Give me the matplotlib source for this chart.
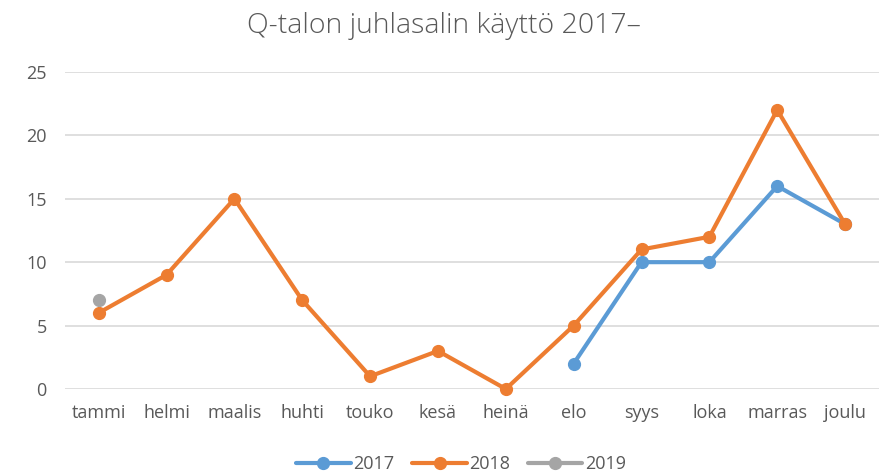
import numpy as np
import matplotlib.pyplot as plt

months = ["tammi", "helmi", "maalis", "huhti", "touko", "kesä", "heinä",
          "elo", "syys", "loka", "marras", "joulu"]
y2017 = [None, None, None, None, None, None, None, 2, 10, 10, 16, 13]
y2018 = [6, 9, 15, 7, 1, 3, 0, 5, 11, 12, 22, 13]
y2019 = [7, None, None, None, None, None, None, None, None, None, None, None]

series = [("2017", y2017, "#5B9BD5"),
          ("2018", y2018, "#ED7D31"),
          ("2019", y2019, "#A5A5A5")]

plt.rcParams["font.family"] = ["Open Sans", "DejaVu Sans"]
text_color = "#595959"

fig = plt.figure(figsize=(8.87, 4.73), dpi=100)
ax = fig.add_axes([0.073, 0.1776, 0.918, 0.6704])

x = np.arange(len(months))
for name, vals, color in series:
    v = np.array([np.nan if a is None else a for a in vals], dtype=float)
    ax.plot(x, v, color=color, linewidth=3, marker="o", markersize=8.5,
            label=name, solid_capstyle="round", zorder=3, clip_on=False)

ax.set_xlim(-0.5, len(months) - 0.5)
ax.set_ylim(0, 25)
ax.set_yticks(range(0, 26, 5))
ax.set_xticks(x)
ax.set_xticklabels(months)
ax.grid(axis="y", color="#D9D9D9", linewidth=1.2, zorder=0)
for s in ax.spines.values():
    s.set_visible(False)
ax.tick_params(length=0, colors=text_color, labelsize=13)
ax.tick_params(axis="y", pad=13)
ax.tick_params(axis="x", pad=11)

fig.suptitle("Q-talon juhlasalin käyttö 2017–", fontsize=20.5, color=text_color,
             fontweight="light", y=0.975)

fig.legend(loc="lower center", ncol=3, frameon=False, fontsize=13,
           labelcolor=text_color, bbox_to_anchor=(0.52, -0.035),
           handlelength=3, handletextpad=0.15, columnspacing=1.0)

fig.savefig("out.png", dpi=100)
